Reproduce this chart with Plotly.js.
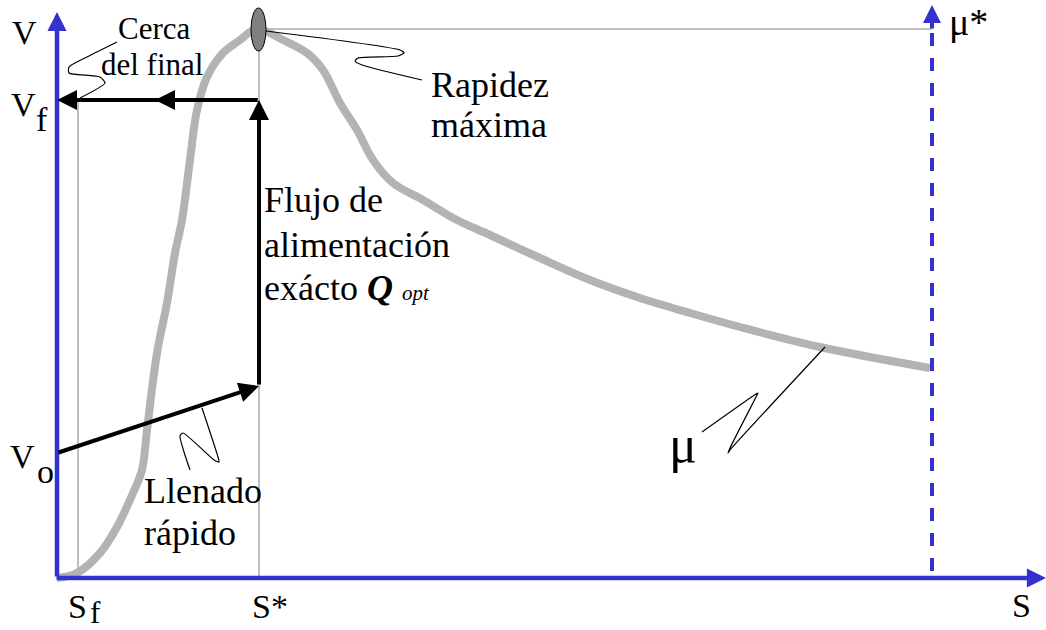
<!DOCTYPE html>
<html>
<head>
<meta charset="utf-8">
<script src="https://cdn.plot.ly/plotly-3.0.1.min.js"></script>
<style>html,body{margin:0;padding:0;background:#fff}</style>
</head>
<body>
<div id="chart" style="width:1046px;height:630px"></div>
<script>
// specific growth rate mu(S) (S right, V up, origin at the axes corner)
const muS = [0,20,43,60,76,85,90,100,110,118,125,133,140,150,166,183,200,226,250,266,283,300,316,336,366,400,433,483,533,583,633,683,763,873];
const muV = [0,5,25,51,85,108,148,225,275,325,358,418,468,501,525,538,549,538,525,508,475,448,418,395,378,358,343,320,298,280,265,251,231,210];

// key levels
const S_f = 21, S_star = 202, S_muMax = 875, S_end = 989;
const V_o = 125, V_q = 192, V_f = 478, V_peak = 549, V_top = 566, V_muTop = 573;
const S_midHead = 98;

// squiggly leader lines
const cercaS = [60,30,12,12,43,48,23];
const cercaV = [536,521,511,505,501,495,480];
const rapidezS = [209,343,347,341,301,298,305,365];
const rapidezV = [547,528,525,522,520,517,513,498];
const llenadoS = [145,161,162,157,126,123,127,133];
const llenadoV = [170,121,116,118,145,142,126,108];
const muLeadS = [768,673,671,673,699,701,696,645];
const muLeadV = [231,128,125,130,181,185,182,146];

const BLUE = "#3333cc";
const FONT = "'Liberation Serif', 'DejaVu Serif', serif";

const leader = (x, y) => ({
    x: x, y: y, type: "scatter", mode: "lines", hoverinfo: "skip",
    line: {color: "#000", width: 1.2, shape: "spline", smoothing: 0.6}
});

const traces = [
    {x: muS, y: muV, type: "scatter", mode: "lines", hoverinfo: "skip",
     line: {color: "#b3b3b3", width: 8, shape: "spline", smoothing: 1}},
    leader(cercaS, cercaV),
    leader(rapidezS, rapidezV),
    leader(llenadoS, llenadoV),
    leader(muLeadS, muLeadV)
];

const thin = {color: "#808080", width: 1};
const shapes = [
    {type: "line", xref: "x", yref: "y", x0: S_f, x1: S_f, y0: 0, y1: V_f, line: thin, layer: "below"},
    {type: "line", xref: "x", yref: "y", x0: S_star, x1: S_star, y0: 0, y1: V_peak, line: thin, layer: "below"},
    {type: "line", xref: "x", yref: "y", x0: S_star, x1: S_muMax, y0: V_peak, y1: V_peak, line: thin, layer: "below"},
    {type: "line", xref: "x", yref: "y", x0: S_muMax, x1: S_muMax, y0: 545, y1: 0,
     line: {color: BLUE, width: 4, dash: "13px,12px"}},
    {type: "circle", xref: "x", yref: "y", x0: S_star - 8, x1: S_star + 7, y0: V_peak - 22, y1: V_peak + 21,
     fillcolor: "#808080", line: {color: "#000", width: 1}}
];

function arrow(x0, y0, x1, y1, color, width, size) {
    return {x: x1, y: y1, ax: x0, ay: y0, xref: "x", yref: "y", axref: "x", ayref: "y",
            text: "", showarrow: true, arrowhead: 2, arrowsize: size, arrowwidth: width,
            arrowcolor: color, standoff: 0, startstandoff: 0};
}

function label(text, x, y, size, anchor) {
    return {x: x, y: y, xref: "x", yref: "y", text: text, showarrow: false,
            xanchor: anchor || "center", yanchor: "middle", borderpad: 0,
            font: {family: FONT, size: size, color: "#000"}};
}

const annotations = [
    // axes
    arrow(0, 0, 0, V_top, BLUE, 4.5, 0.85),
    arrow(-2, 0, S_end, 0, BLUE, 4.5, 0.85),
    arrow(S_muMax, 548, S_muMax, V_muTop, BLUE, 4, 0.9),
    // feeding path
    arrow(0, V_o, S_star, V_q, "#000", 4, 1),
    arrow(S_star, V_q, S_star, V_f, "#000", 4, 1),
    arrow(S_star, V_f, 0, V_f, "#000", 4, 1),
    arrow(S_star, V_f, S_midHead, V_f, "#000", 4, 1),
    // texts
    label("V", -33, 546, 34),
    label("V", -34, 474, 34),
    label("f", -15, 459, 34),
    label("V", -35, 122, 34),
    label("o", -12, 107, 34),
    label("S", 20, -28, 34),
    label("f", 38, -34, 31),
    label("S*", 213, -28, 34),
    label("S", 964, -27, 34),
    label("μ*", 891, 556, 38, "left"),
    label("μ", 626, 134, 52),
    label("Cerca", 97, 550, 31),
    label("del final", 95, 514, 31),
    label("Rapidez", 373, 493, 36, "left"),
    label("máxima", 373, 453, 36, "left"),
    label("Flujo de", 206, 378, 36, "left"),
    label("alimentación", 206, 333, 36, "left"),
    label('exácto <b><i>Q</i></b> <i><span style="font-size:21px">opt</span></i>', 206, 290, 36, "left"),
    label("Llenado", 86, 87, 36, "left"),
    label("rápido", 86, 45, 36, "left")
];

const layout = {
    width: 1046, height: 630,
    margin: {l: 0, r: 0, t: 0, b: 0},
    paper_bgcolor: "#fff", plot_bgcolor: "#fff",
    showlegend: false,
    font: {family: FONT},
    xaxis: {range: [-57, 989], visible: false, fixedrange: true},
    yaxis: {range: [-52, 578], visible: false, fixedrange: true},
    shapes: shapes,
    annotations: annotations
};

Plotly.newPlot("chart", traces, layout, {staticPlot: true, displayModeBar: false});
</script>
</body>
</html>
